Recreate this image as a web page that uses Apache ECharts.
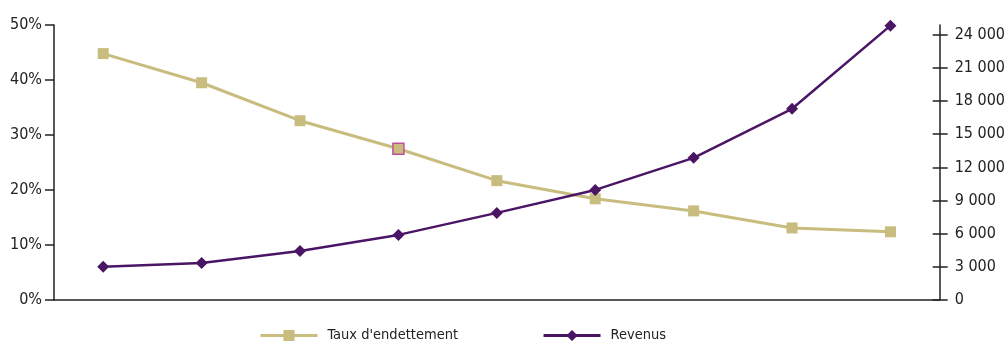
<!DOCTYPE html>
<html>
<head>
<meta charset="utf-8">
<script src="https://cdn.jsdelivr.net/npm/echarts@6/dist/echarts.min.js"></script>
<style>
    html, body { margin: 0; padding: 0; background: #fff; }
    #chart { width: 1008px; height: 341px; }
</style>
</head>
<body>
<div id="chart"></div>
<script>

// categories (no labels shown on the x axis)
var categories = ['1', '2', '3', '4', '5', '6', '7', '8', '9'];

// debt ratio, in %
var taux = [44.8, 39.5, 32.6, 27.5, 21.7, 18.4, 16.2, 13.1, 12.4];

// income
var revenus = [3000, 3350, 4440, 5890, 7880, 9960, 12860, 17300, 24820];

// right axis tick values
var rightTicks = [0, 3000, 6000, 9000, 12000, 15000, 18000, 21000, 24000];

var fontFamily = '"DejaVu Sans Condensed", "DejaVu Sans", sans-serif';
var axisColor = '#222';

function fmtThousands(v) {
    return String(v).replace(/\B(?=(\d{3})+(?!\d))/g, ' ');
}

window.onload = function () {
    var myChart = echarts.init(document.getElementById('chart'));

    // highlight the 4th square like in the original
    var tauxData = taux.map(function (v, i) {
        if (i === 3) {
            return { value: v, itemStyle: { borderColor: '#C0509A', borderWidth: 1.5 } };
        }
        return v;
    });

    var option = {
        backgroundColor: '#fff',
        animation: false,
        grid: { left: 54, right: 65, top: 25, bottom: 41 },
        legend: {
            left: 254,
            bottom: -7,
            itemWidth: 57,
            itemHeight: 14,
            itemGap: 84,
            lineStyle: { width: 3 },
            textStyle: {
                fontFamily: fontFamily,
                fontSize: 14.5,
                color: '#222',
                padding: [0, 0, 0, 5]
            },
            data: ['Taux d\'endettement', 'Revenus']
        },
        xAxis: {
            type: 'category',
            data: categories,
            boundaryGap: true,
            axisLine: { lineStyle: { color: axisColor, width: 1.5 } },
            axisTick: { show: false },
            axisLabel: { show: false },
            splitLine: { show: false }
        },
        yAxis: [
            {
                type: 'value',
                min: 0,
                max: 50,
                interval: 10,
                axisLine: { show: true, lineStyle: { color: axisColor, width: 1.5 } },
                axisTick: { show: true, length: 9, lineStyle: { color: axisColor, width: 1.5 } },
                axisLabel: {
                    formatter: '{value}%',
                    margin: 12,
                    fontFamily: fontFamily,
                    fontSize: 16,
                    color: '#222'
                },
                splitLine: { show: false }
            },
            {
                type: 'value',
                position: 'right',
                min: 0,
                max: 24880,
                axisLine: { show: true, lineStyle: { color: axisColor, width: 1.5 } },
                axisTick: {
                    show: true,
                    length: 8,
                    customValues: rightTicks,
                    lineStyle: { color: axisColor, width: 1.5 }
                },
                axisLabel: {
                    customValues: rightTicks,
                    formatter: fmtThousands,
                    margin: 15,
                    fontFamily: fontFamily,
                    fontSize: 16,
                    color: '#222'
                },
                splitLine: { show: false }
            },
            {
                // inner half of the crossing ticks on the right axis
                type: 'value',
                position: 'right',
                min: 0,
                max: 24880,
                axisLine: { show: false },
                axisTick: {
                    show: true,
                    inside: true,
                    length: 7,
                    customValues: rightTicks,
                    lineStyle: { color: axisColor, width: 1.5 }
                },
                axisLabel: { show: false },
                splitLine: { show: false }
            }
        ],
        series: [
            {
                name: 'Taux d\'endettement',
                type: 'line',
                yAxisIndex: 0,
                data: tauxData,
                symbol: 'rect',
                symbolSize: 11,
                lineStyle: { color: '#C9BC7F', width: 3 },
                itemStyle: { color: '#C9BC7F' },
                z: 2
            },
            {
                name: 'Revenus',
                type: 'line',
                yAxisIndex: 1,
                data: revenus,
                symbol: 'diamond',
                symbolSize: 12,
                lineStyle: { color: '#4B1566', width: 2.5 },
                itemStyle: { color: '#4B1566' },
                z: 3
            }
        ]
    };

    myChart.setOption(option);
};
</script>
</body>
</html>
